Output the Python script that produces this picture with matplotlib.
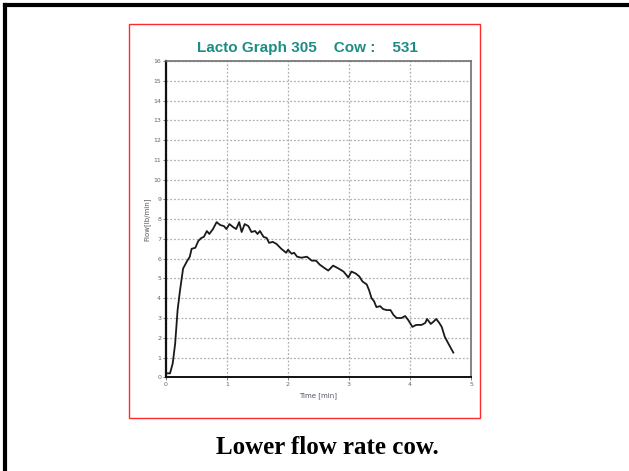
import matplotlib
matplotlib.use("Agg")
import matplotlib.pyplot as plt
from matplotlib.patches import Rectangle
from matplotlib.lines import Line2D

# flow curve
time_min = [0.0, 0.066, 0.11, 0.15, 0.19, 0.23, 0.28, 0.34, 0.39, 0.42, 0.48, 0.53,
            0.58, 0.62, 0.67, 0.71, 0.77, 0.83, 0.89, 0.95, 0.99, 1.04, 1.10, 1.15,
            1.20, 1.24, 1.29, 1.35, 1.40, 1.46, 1.50, 1.54, 1.60, 1.65, 1.69, 1.75,
            1.81, 1.89, 1.97, 2.00, 2.06, 2.10, 2.15, 2.22, 2.31, 2.39, 2.46, 2.52,
            2.61, 2.66, 2.74, 2.83, 2.91, 2.99, 3.04, 3.11, 3.17, 3.22, 3.29, 3.33,
            3.37, 3.41, 3.45, 3.51, 3.56, 3.62, 3.68, 3.73, 3.78, 3.86, 3.92, 3.97,
            4.04, 4.10, 4.19, 4.25, 4.28, 4.34, 4.38, 4.43, 4.48, 4.52, 4.57, 4.63,
            4.71]
flow = [0.2, 0.2, 0.7, 1.7, 3.4, 4.4, 5.5, 5.85, 6.1, 6.5, 6.55, 6.9,
        7.05, 7.1, 7.4, 7.25, 7.5, 7.85, 7.7, 7.65, 7.5, 7.75, 7.6, 7.5,
        7.85, 7.35, 7.75, 7.65, 7.35, 7.4, 7.25, 7.4, 7.1, 7.05, 6.8, 6.85,
        6.75, 6.5, 6.3, 6.45, 6.25, 6.3, 6.1, 6.05, 6.1, 5.9, 5.9, 5.7,
        5.5, 5.4, 5.65, 5.5, 5.35, 5.05, 5.35, 5.25, 5.1, 4.85, 4.7, 4.4,
        4.0, 3.85, 3.55, 3.6, 3.45, 3.4, 3.4, 3.15, 3.0, 3.0, 3.1, 2.9,
        2.55, 2.65, 2.65, 2.75, 2.95, 2.7, 2.8, 2.95, 2.75, 2.55, 2.05, 1.7,
        1.25]

x_ticks = [0, 1, 2, 3, 4, 5]
y_ticks = list(range(0, 17))

W, H = 629, 471
fig = plt.figure(figsize=(W / 100, H / 100), dpi=100)
fig.patch.set_facecolor("white")

# slide border (top and left only are visible)
fig.add_artist(Line2D([5 / W, 5 / W], [0, 1 - 5 / H], transform=fig.transFigure,
                      color="black", lw=3, solid_capstyle="projecting"))
fig.add_artist(Line2D([5 / W, 1], [1 - 5 / H, 1 - 5 / H], transform=fig.transFigure,
                      color="black", lw=3, solid_capstyle="projecting"))

# red frame round the graph
fig.add_artist(Rectangle((129 / W, 1 - 418 / H), 351 / W, 394 / H,
                         transform=fig.transFigure, fill=False,
                         edgecolor="#ff2a2a", lw=1.0))

ax = fig.add_axes([166 / W, 1 - 377.3 / H, 305 / W, 316.3 / H])
ax.plot(time_min, flow, color="#1a1a1a", lw=1.3, zorder=3)

ax.set_xlim(0, 5)
ax.set_ylim(0, 16)
ax.set_xticks(x_ticks)
ax.set_yticks(y_ticks)
ax.tick_params(labelsize=4.5, labelcolor="#666666", length=2, width=0.6,
               color="#666666", pad=1.5)
ax.grid(True, color="#b0b0b0", ls=(0, (1.5, 1.5)), lw=0.9)

for side in ("top", "right"):
    ax.spines[side].set_linestyle((0, (1.3, 1.0)))
    ax.spines[side].set_color("#707070")
    ax.spines[side].set_linewidth(1.2)
ax.spines["left"].set_linewidth(1.6)
ax.spines["left"].set_color("#111111")
ax.spines["bottom"].set_linewidth(1.4)
ax.spines["bottom"].set_color("#111111")

ax.set_xlabel("Time [min]", fontsize=5, color="#555566", labelpad=4)
ax.set_ylabel("Flow[lb/min]", fontsize=5, color="#555555", labelpad=2)

fig.text(307 / W, 1 - 48 / H, "Lacto Graph 305    Cow :    531",
         ha="center", va="center", fontsize=11, fontweight="bold",
         color="#1e8c84", family="Liberation Sans")

fig.text(327 / W, 1 - 448 / H, "Lower flow rate cow.", ha="center", va="center",
         fontsize=18, fontweight="bold", family="Liberation Serif", color="black")

fig.savefig("out.png", dpi=100)
